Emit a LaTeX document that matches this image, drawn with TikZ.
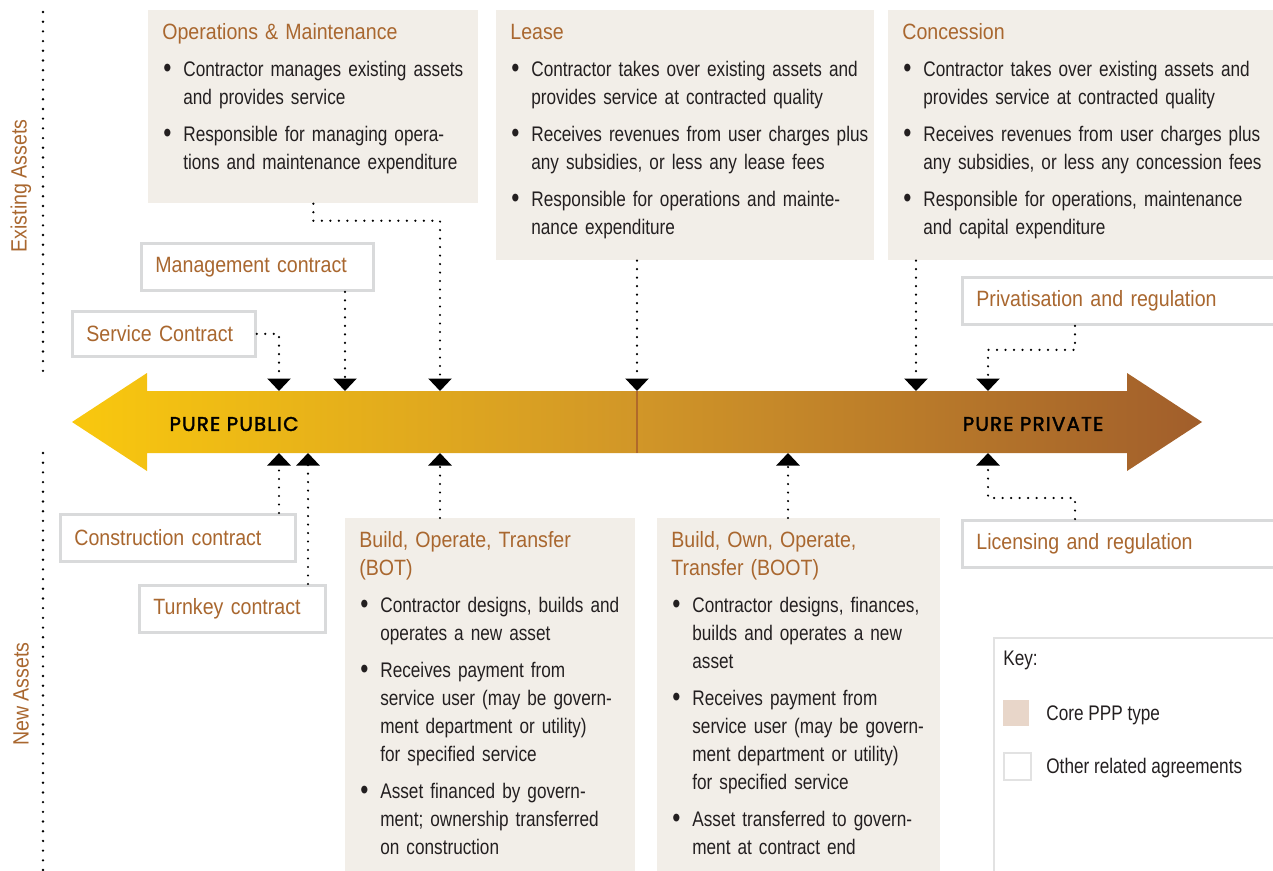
\documentclass[tikz,border=0pt]{standalone}
\usepackage{fontspec}
\setmainfont{Liberation Sans}
\newfontfamily\bodyfont{Liberation Sans}[FakeStretch=0.815]
\newfontfamily\headfont{Liberation Sans}[FakeStretch=0.885]
\newfontfamily\bandfont{Poppins}[FakeBold=2, LetterSpace=6]
\usetikzlibrary{calc, positioning, arrows.meta}
\definecolor{corefill}{HTML}{F2EEE8}
\definecolor{keycore}{HTML}{E8D6C9}
\definecolor{edgegray}{HTML}{D9DADB}
\definecolor{keygray}{HTML}{E2E2E2}
\definecolor{headbrown}{HTML}{A9672F}
\definecolor{inkdark}{HTML}{231F20}
\definecolor{pubyellow}{HTML}{F9C80E}
\definecolor{midgold}{HTML}{D19628}
\definecolor{privbrown}{HTML}{A15E2B}
\definecolor{splitline}{HTML}{B0692A}

\newcommand{\pxu}{0.02cm}
\newcommand{\ppphead}[1]{{\headfont\fontsize{12.6}{15.94}\selectfont\noindent\color{headbrown}\rule{0pt}{10pt}#1\par}}
\newcommand{\pppitem}[1]{\par\vspace{5.1pt}\hangindent=0.42cm\hangafter=1\noindent\makebox[0.42cm][l]{\hspace{0.02cm}\raisebox{-0.6pt}{\scalebox{1.35}{\textbullet}}}#1\par}

\begin{document}
\begin{tikzpicture}[x=0.02cm, y=-0.02cm,
    corebox/.style={fill=corefill, inner sep=0pt, anchor=north west},
    coretxt/.style={anchor=north west, inner sep=0pt, text width=8cm, align=left, text=inkdark, font=\bodyfont\fontsize{12}{15.94}\selectfont},
    otherbox/.style={draw=edgegray, line width=1.6pt, fill=white, anchor=north west, inner xsep=14*\pxu, inner ysep=0pt, minimum height=47*\pxu, align=left, text=headbrown, font=\headfont\fontsize{12.6}{15}\selectfont},
    keytxt/.style={anchor=west, inner sep=0pt, text=inkdark, font=\bodyfont\fontsize{12}{15}\selectfont},
    sidelabel/.style={rotate=90, inner sep=0pt, text=headbrown, font=\headfont\fontsize{12.6}{15}\selectfont},
    bandtxt/.style={inner sep=0pt, text=black, font=\bandfont\fontsize{11.3}{13}\selectfont},
    sidedots/.style={line width=1.5pt, line cap=round, dash pattern=on 0pt off 0.194cm},
    link/.style={line width=1.4pt, line cap=round, dash pattern=on 0pt off 0.17cm, -{Triangle[width=0.46cm, length=0.25cm]}}]
    \useasboundingbox (0,0) rectangle (1273,871);

    % Side labels
    \draw[sidedots] (43,12) -- (43,380);
    \draw[sidedots] (43,453) -- (43,871);
    \node[sidelabel] (existing) at (21,186) {Existing Assets};
    \node[sidelabel] (newassets) at (21,694) {New Assets};

    % Public -- private band
    \shade[left color=pubyellow, right color=privbrown, middle color=midgold]
      (72,422) -- (147,373) -- (147,391) -- (1127,391) -- (1127,373) -- (1202,422)
      -- (1127,471) -- (1127,453) -- (147,453) -- (147,471) -- cycle;
    \draw[splitline, line width=1.2pt] (637,391) -- (637,453);
    \node[bandtxt] (pubtxt) at (234,424) {PURE PUBLIC};
    \node[bandtxt] (privtxt) at (1033,424) {PURE PRIVATE};

    % Tip points on the band
    \coordinate (tsvc) at (279,391);
    \coordinate (tmgmt) at (345,391);
    \coordinate (tom) at (440,391);
    \coordinate (tlease) at (637,391);
    \coordinate (tconc) at (916,391);
    \coordinate (tpriv) at (988,391);
    \coordinate (bconstr) at (279,453);
    \coordinate (bturn) at (308,453);
    \coordinate (bbot) at (440,453);
    \coordinate (bboot) at (788,453);
    \coordinate (blic) at (988,453);

    % Core PPP types
    \node[corebox, minimum width=330*\pxu, minimum height=193*\pxu] (om) at (148,10) {};
    \node[coretxt] (omtxt) at ($(om.north west)+(14,12)$) {\ppphead{Operations \& Maintenance}
      \pppitem{Contractor manages existing assets\newline and provides service}
      \pppitem{Responsible for managing opera-\newline tions and maintenance expenditure}};

    \node[corebox, minimum width=378*\pxu, minimum height=250*\pxu] (lease) at (496,10) {};
    \node[coretxt] (leasetxt) at ($(lease.north west)+(14,12)$) {\ppphead{Lease}
      \pppitem{Contractor takes over existing assets and\newline provides service at contracted quality}
      \pppitem{Receives revenues from user charges plus\newline any subsidies, or less any lease fees}
      \pppitem{Responsible for operations and mainte-\newline nance expenditure}};

    \node[corebox, minimum width=400*\pxu, minimum height=250*\pxu] (conc) at (888,10) {};
    \node[coretxt] (conctxt) at ($(conc.north west)+(14,12)$) {\ppphead{Concession}
      \pppitem{Contractor takes over existing assets and\newline provides service at contracted quality}
      \pppitem{Receives revenues from user charges plus\newline any subsidies, or less any concession fees}
      \pppitem{Responsible for operations, maintenance\newline and capital expenditure}};

    \node[corebox, minimum width=290*\pxu, minimum height=370*\pxu] (bot) at (345,518) {};
    \node[coretxt] (bottxt) at ($(bot.north west)+(14,12)$) {\ppphead{Build, Operate, Transfer\newline (BOT)}
      \pppitem{Contractor designs, builds and\newline operates a new asset}
      \pppitem{Receives payment from\newline service user (may be govern-\newline ment department or utility)\newline for specified service}
      \pppitem{Asset financed by govern-\newline ment; ownership transferred\newline on construction}};

    \node[corebox, minimum width=283*\pxu, minimum height=370*\pxu] (boot) at (657,518) {};
    \node[coretxt] (boottxt) at ($(boot.north west)+(14,12)$) {\ppphead{Build, Own, Operate,\newline Transfer (BOOT)}
      \pppitem{Contractor designs, finances,\newline builds and operates a new\newline asset}
      \pppitem{Receives payment from\newline service user (may be govern-\newline ment department or utility)\newline for specified service}
      \pppitem{Asset transferred to govern-\newline ment at contract end}};

    % Other related agreements
    \node[otherbox, text width=204*\pxu] (mgmt) at (140,242) {\mbox{Management contract}};
    \node[otherbox, text width=155*\pxu, minimum height=45*\pxu] (svc) at (71,310) {\mbox{Service Contract}};
    \node[otherbox, text width=312*\pxu] (priv) at (961,276) {\mbox{Privatisation and regulation}};
    \node[otherbox, text width=207*\pxu] (constr) at (59,513) {\mbox{Construction contract}};
    \node[otherbox, text width=158*\pxu] (turnkey) at (138,584) {\mbox{Turnkey contract}};
    \node[otherbox, text width=312*\pxu] (lic) at (961,519) {\mbox{Licensing and regulation}};

    % Connectors
    \draw[link] (svc.east) -| (tsvc);
    \draw[link] (mgmt.south -| tmgmt) -- (tmgmt);
    \draw[link] (om.south) -- ++(0,17) -| (tom);
    \draw[link] (lease.south -| tlease) -- (tlease);
    \draw[link] (conc.south -| tconc) -- (tconc);
    \draw[link] ($(priv.south west)+(114,0)$) -- ++(0,24) -| (tpriv);
    \draw[link] (constr.north -| bconstr) -- (bconstr);
    \draw[link] (turnkey.north -| bturn) -- (bturn);
    \draw[link] (bot.north -| bbot) -- (bbot);
    \draw[link] (boot.north -| bboot) -- (bboot);
    \draw[link] ($(lic.north west)+(114,0)$) -- ++(0,-21) -| (blic);

    % Key
    \node[draw=keygray, line width=1.2pt, fill=white, anchor=north west, inner sep=0pt,
      minimum width=300*\pxu, minimum height=260*\pxu] (key) at (993,637) {};
    \node[keytxt] (keyhead) at (1003,660) {Key:};
    \node[fill=keycore, anchor=north west, inner sep=0pt, minimum size=26*\pxu] (swcore) at (1003,700) {};
    \node[keytxt] (swcoretxt) at (1046,715) {Core PPP type};
    \node[draw=keygray, line width=1.2pt, anchor=north west, inner sep=0pt, minimum size=27*\pxu] (swother) at (1003,752) {};
    \node[keytxt] (swothertxt) at (1046,768) {Other related agreements};
\end{tikzpicture}
\end{document}
